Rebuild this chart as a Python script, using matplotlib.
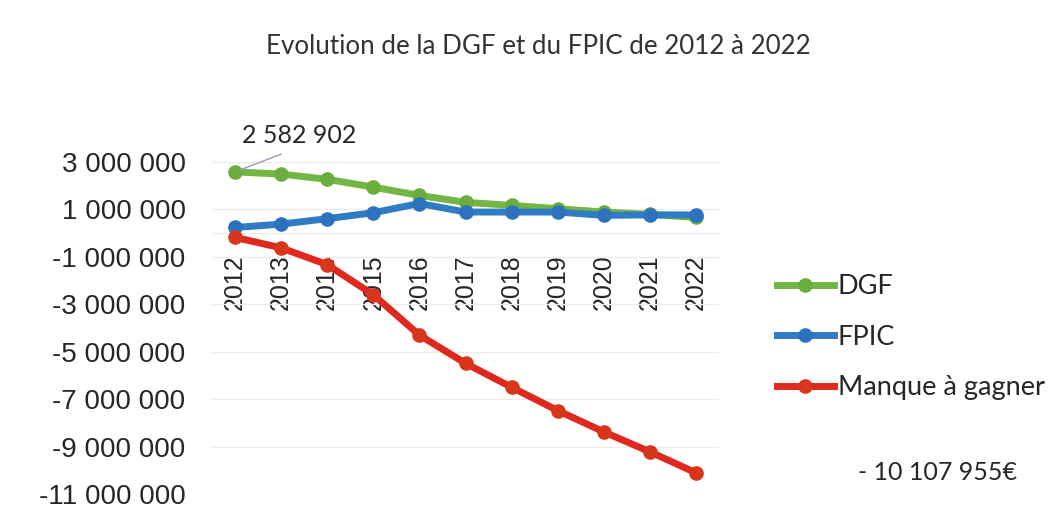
import matplotlib
matplotlib.use("Agg")
import matplotlib.pyplot as plt
from matplotlib.ticker import FuncFormatter, MultipleLocator

# données
annees = ["2012", "2013", "2014", "2015", "2016", "2017", "2018", "2019", "2020", "2021", "2022"]
dgf = [2582902, 2490000, 2270000, 1940000, 1590000, 1300000, 1170000, 1030000, 890000, 790000, 660000]
fpic = [240000, 380000, 610000, 860000, 1250000, 890000, 890000, 890000, 750000, 770000, 770000]
manque = [-180000, -620000, -1330000, -2600000, -4300000, -5490000, -6500000, -7480000, -8380000, -9220000, -10107955]

y_min, y_max, y_pas = -11000000, 3000000, 2000000


def fmt_nombre(v):
    return f"{int(round(v)):,}".replace(",", " ")


W, H = 1058, 523
fig = plt.figure(figsize=(W / 100, H / 100), dpi=100)
ax = fig.add_axes([212 / W, 1 - 494 / H, 507 / W, 332 / H])

x = range(len(annees))
series = [
    ("DGF", dgf, "#72B743", "#6AAD3D"),
    ("FPIC", fpic, "#2F7CC4", "#2C72BE"),
    ("Manque à gagner", manque, "#E0281E", "#D8361A"),
]
for nom, vals, c_ligne, c_point in series:
    ax.plot(x, vals, color=c_ligne, lw=5, marker="o", ms=9.5,
            mfc=c_point, mec=c_point, label=nom, zorder=3, clip_on=False)

ax.set_xlim(-0.5, len(annees) - 0.5)
ax.set_ylim(y_min, y_max)
ax.yaxis.set_major_locator(MultipleLocator(y_pas, offset=1000000))
ax.yaxis.set_major_formatter(FuncFormatter(lambda v, p: fmt_nombre(v)))
ax.grid(axis="y", color="#EBEBEB", lw=1)
ax.set_axisbelow(True)

for s in ["top", "right", "left"]:
    ax.spines[s].set_visible(False)
ax.spines["bottom"].set_position(("data", 0))
ax.spines["bottom"].set_color("#EBEBEB")

ax.set_xticks(list(x))
ax.set_xticklabels(annees, rotation=90, family="Liberation Sans", fontsize=18,
                   color="#262626")
ax.tick_params(axis="x", length=0, pad=15)
ax.tick_params(axis="y", length=0, pad=19, labelsize=20, labelcolor="#262626")
for t in ax.get_yticklabels():
    t.set_family("Liberation Sans")

fig.text(538 / W, 1 - 46 / H, "Evolution de la DGF et du FPIC de 2012 à 2022",
         ha="center", va="center", family="Lato", fontsize=18.7, color="#333333")

# étiquette de la première valeur DGF
ax.annotate(fmt_nombre(dgf[0]), xy=(0, dgf[0]), xytext=(46, 26),
            textcoords="offset points", ha="center", va="center",
            family="Lato", fontsize=18, color="#262626",
            arrowprops=dict(arrowstyle="-", color="#9A9AC0", lw=1,
                            relpos=(0.5, 0), shrinkA=8, shrinkB=3))

fig.text(1017 / W, 1 - 472 / H, "- " + fmt_nombre(-manque[-1]) + "€",
         ha="right", va="center", family="Lato", fontsize=18, color="#262626")

leg = ax.legend(loc="upper left", bbox_to_anchor=(777 / W, 1 - 274 / H),
                bbox_transform=fig.transFigure, frameon=False,
                prop={"family": "Lato", "size": 19.5}, handlelength=2.1,
                handletextpad=0.15, labelspacing=0.95, borderpad=0,
                borderaxespad=0)
for t in leg.get_texts():
    t.set_color("#262626")

fig.savefig("out.png", dpi=100, facecolor="white")
